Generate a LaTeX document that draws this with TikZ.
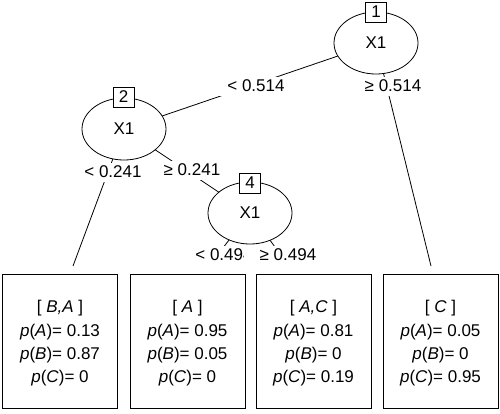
\documentclass[tikz,border=0pt]{standalone}
\usepackage{fontspec}
\setmainfont{Liberation Sans}
\usetikzlibrary{shapes.geometric}
\pgfdeclarelayer{bg}
\pgfsetlayers{bg,main}
\begin{document}
\begin{tikzpicture}[x=1pt,y=-1pt,
  every node/.style={font=\fontsize{17}{23.3}\selectfont},
  innernode/.style={ellipse,draw,fill=white,minimum width=84pt,minimum height=62pt,inner sep=0pt,line width=0.8pt},
  idbox/.style={rectangle,draw,fill=white,minimum width=21pt,minimum height=20pt,inner sep=0pt,line width=0.8pt},
  elabel/.style={fill=white,minimum width=88pt,minimum height=19pt,inner sep=0pt},
  leafbox/.style={rectangle,draw,minimum width=115pt,minimum height=134pt,inner sep=0pt,line width=0.8pt},
  leaftext/.style={align=center,inner sep=0pt},
  edgeline/.style={line width=0.8pt}]
\useasboundingbox (0,0) rectangle (500,413);

% inner nodes
\node[innernode] (n1) at (376,43) {X1};
\node[innernode] (n2) at (124,129) {X1};
\node[innernode] (n4) at (250,213) {X1};
\node[idbox] (id1) at (376,12) {1};
\node[idbox] (id2) at (123.5,97) {2};
\node[idbox] (id4) at (250,183) {4};

% edge ends above terminal panels
\coordinate (t1) at (73,266);
\coordinate (t2) at (212,262);
\coordinate (t3) at (286,262);
\coordinate (t4) at (431,266);

\begin{pgfonlayer}{bg}
\draw[edgeline] (n1.center) -- (n2.center);
\draw[edgeline] (n1.center) -- (t4);
\draw[edgeline] (n2.center) -- (t1);
\draw[edgeline] (n2.center) -- (n4.center);
\draw[edgeline] (n4.center) -- (t2);
\draw[edgeline] (n4.center) -- (t3);
\end{pgfonlayer}

% edge labels
\node[elabel] (e12) at (256,86) {< 0.514};
\node[elabel] (e14) at (393,86) {≥ 0.514};
\node[elabel] (e21) at (113,172) {< 0.241};
\node[elabel] (e24) at (192,170) {≥ 0.241};
\node[elabel] (e42) at (224,255) {< 0.494};
\node[elabel] (e43) at (288,255) {≥ 0.494};

% terminal panels
\node[leafbox] (l1) at (60,341) {};
\node[leafbox] (l2) at (187.5,341) {};
\node[leafbox] (l3) at (313.5,341) {};
\node[leafbox] (l4) at (440.5,341) {};
\node[leaftext] (l1t) at (60,343.5) {[ \textit{B,A} ]\\\textit{p}(\textit{A})= 0.13\\\textit{p}(\textit{B})= 0.87\\\textit{p}(\textit{C})= 0};
\node[leaftext] (l2t) at (187.5,343.5) {[ \textit{A} ]\\\textit{p}(\textit{A})= 0.95\\\textit{p}(\textit{B})= 0.05\\\textit{p}(\textit{C})= 0};
\node[leaftext] (l3t) at (313.5,343.5) {[ \textit{A,C} ]\\\textit{p}(\textit{A})= 0.81\\\textit{p}(\textit{B})= 0\\\textit{p}(\textit{C})= 0.19};
\node[leaftext] (l4t) at (440.5,343.5) {[ \textit{C} ]\\\textit{p}(\textit{A})= 0.05\\\textit{p}(\textit{B})= 0\\\textit{p}(\textit{C})= 0.95};
\end{tikzpicture}
\end{document}
